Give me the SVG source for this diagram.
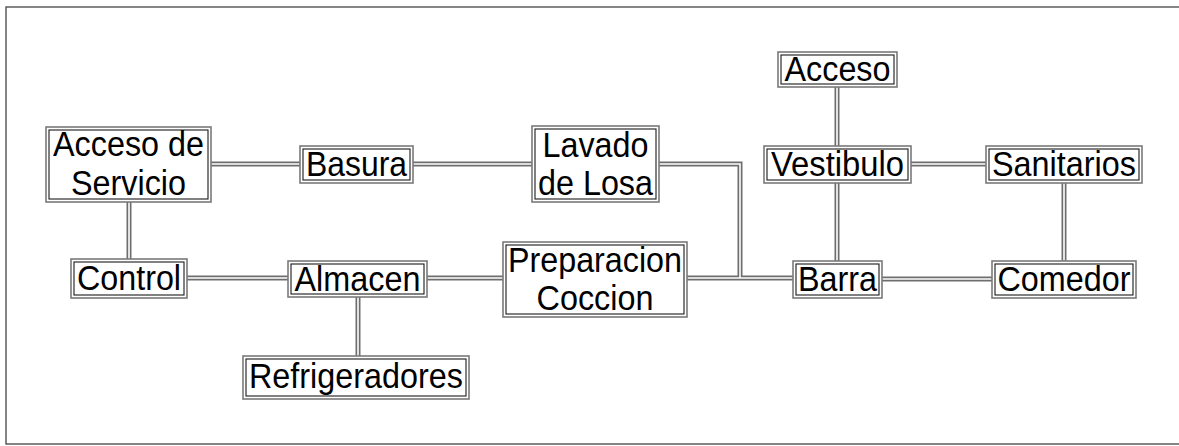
<svg xmlns="http://www.w3.org/2000/svg" width="1179" height="446" viewBox="0 0 1179 446">
<style>
.frame{fill:none;stroke:#444;stroke-width:1.3}
.c1{fill:none;stroke:#6e6e6e;stroke-width:5}
.c2{fill:none;stroke:#fff;stroke-width:1.6}
.bo{fill:#fff;stroke:#7a7a7a;stroke-width:1.6}
.bi{fill:#fff;stroke:#1a1a1a;stroke-width:1.1}
text{font-family:"Liberation Sans",Arial,sans-serif;font-size:34.5px;fill:#000;text-anchor:middle}
</style>
<rect width="1179" height="446" fill="#fff"/>
<rect class="frame" x="6" y="7" width="1180" height="437"/>
<g id="connectors">
<g class="c1">
<path d="M211 164H300M413 164H532M659 164H740V278M687 278H793M129 202V259M187 278H288M427 278H503M358 297V356M837 87V146M837 183V261M911 164H986M1064 183V261M882 279H992"/>
</g>
<g class="c2">
<path d="M211 164H300M413 164H532M659 164H740V278M687 278H793M129 202V259M187 278H288M427 278H503M358 297V356M837 87V146M837 183V261M911 164H986M1064 183V261M882 279H992"/>
</g>
</g>
<g id="acceso-servicio"><rect class="bo" x="46" y="127" width="165" height="75"/><rect class="bi" x="49" y="130" width="159" height="69"/><text x="128.5" y="156" textLength="151" lengthAdjust="spacingAndGlyphs">Acceso de</text><text x="128.5" y="195" textLength="115" lengthAdjust="spacingAndGlyphs">Servicio</text></g>
<g id="basura"><rect class="bo" x="300" y="146" width="113" height="37"/><rect class="bi" x="303" y="149" width="107" height="31"/><text x="356.5" y="176" textLength="101" lengthAdjust="spacingAndGlyphs">Basura</text></g>
<g id="lavado"><rect class="bo" x="532" y="126" width="127" height="76"/><rect class="bi" x="535" y="129" width="121" height="70"/><text x="595.5" y="157" textLength="106" lengthAdjust="spacingAndGlyphs">Lavado</text><text x="595.5" y="195" textLength="115" lengthAdjust="spacingAndGlyphs">de Losa</text></g>
<g id="acceso"><rect class="bo" x="778" y="52" width="119" height="35"/><rect class="bi" x="781" y="55" width="113" height="29"/><text x="837.5" y="80.5" textLength="106" lengthAdjust="spacingAndGlyphs">Acceso</text></g>
<g id="vestibulo"><rect class="bo" x="764" y="146" width="147" height="37"/><rect class="bi" x="767" y="149" width="141" height="31"/><text x="837.5" y="176" textLength="133" lengthAdjust="spacingAndGlyphs">Vestibulo</text></g>
<g id="sanitarios"><rect class="bo" x="986" y="146" width="156" height="37"/><rect class="bi" x="989" y="149" width="150" height="31"/><text x="1064" y="176" textLength="144" lengthAdjust="spacingAndGlyphs">Sanitarios</text></g>
<g id="control"><rect class="bo" x="71" y="259" width="116" height="39"/><rect class="bi" x="74" y="262" width="110" height="33"/><text x="129" y="290" textLength="104" lengthAdjust="spacingAndGlyphs">Control</text></g>
<g id="almacen"><rect class="bo" x="288" y="261" width="139" height="36"/><rect class="bi" x="291" y="264" width="133" height="30"/><text x="357.5" y="290.5" textLength="126" lengthAdjust="spacingAndGlyphs">Almacen</text></g>
<g id="refrigeradores"><rect class="bo" x="243" y="356" width="226" height="43"/><rect class="bi" x="246" y="359" width="220" height="37"/><text x="356" y="387.5" textLength="214" lengthAdjust="spacingAndGlyphs">Refrigeradores</text></g>
<g id="preparacion"><rect class="bo" x="503" y="242" width="184" height="75"/><rect class="bi" x="506" y="245" width="178" height="69"/><text x="595" y="272" textLength="174" lengthAdjust="spacingAndGlyphs">Preparacion</text><text x="595" y="310" textLength="117" lengthAdjust="spacingAndGlyphs">Coccion</text></g>
<g id="barra"><rect class="bo" x="793" y="261" width="89" height="37"/><rect class="bi" x="796" y="264" width="83" height="31"/><text x="837.5" y="291" textLength="79" lengthAdjust="spacingAndGlyphs">Barra</text></g>
<g id="comedor"><rect class="bo" x="992" y="261" width="144" height="37"/><rect class="bi" x="995" y="264" width="138" height="31"/><text x="1064" y="291" textLength="133" lengthAdjust="spacingAndGlyphs">Comedor</text></g>
</svg>
